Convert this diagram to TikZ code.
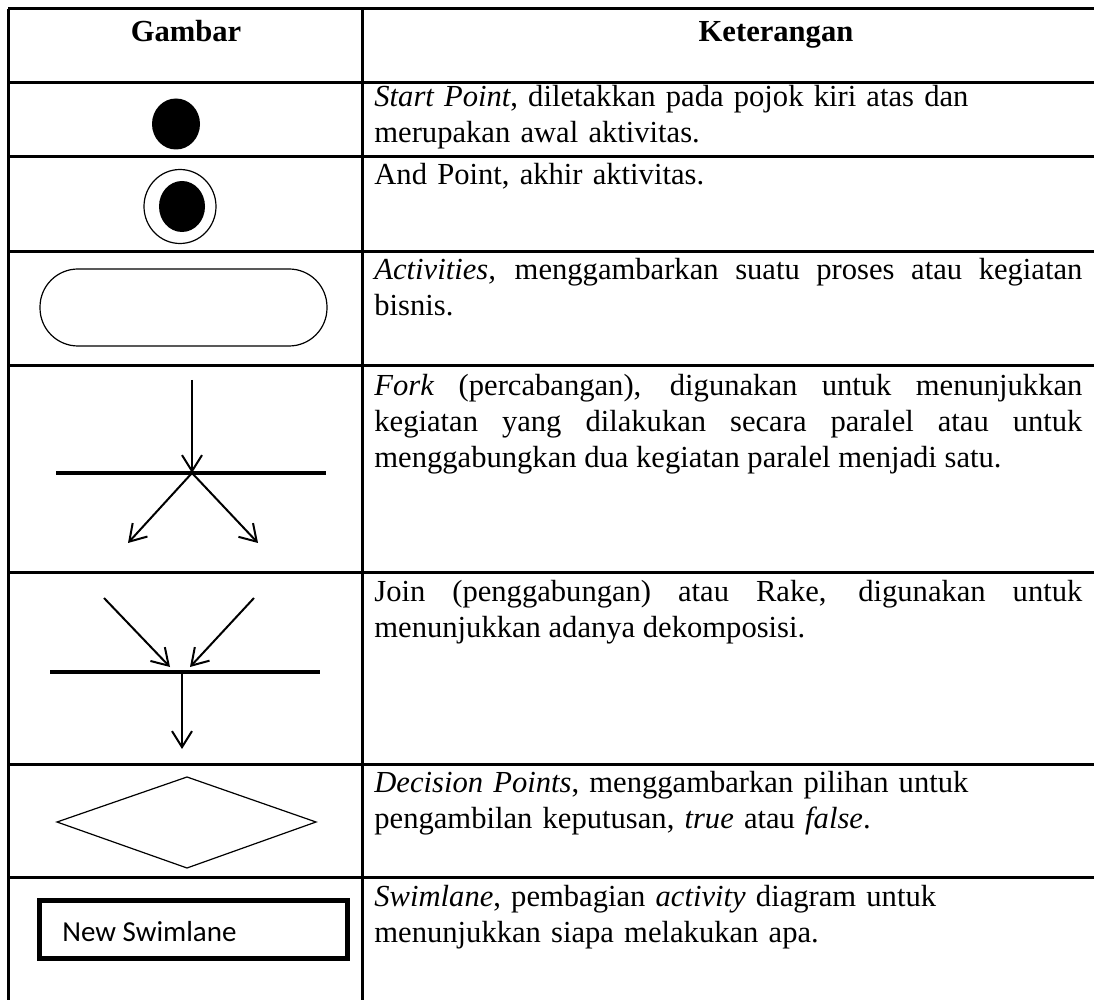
\documentclass[tikz,border=0pt]{standalone}
\usepackage{fontspec}
\setmainfont{Liberation Serif}
\newfontfamily\lanefont{Carlito}
\usetikzlibrary{arrows.meta}

\begin{document}
\begin{tikzpicture}[x=0.5pt,y=-0.5pt,
    rule/.style={line width=1.5pt},
    outline/.style={line width=0.6pt},
    bar/.style={line width=2pt},
    flow/.style={line width=1pt,-{Straight Barb[length=8pt,width=10pt]}},
    head/.style={anchor=base,inner sep=0pt,font=\fontsize{15.3}{18}\selectfont\bfseries},
    info/.style={anchor=base west,inner sep=0pt,text width=354pt,align=left,
        font=\fontsize{15.3}{18}\selectfont},
    infoj/.style={info,align=justify}]
    \useasboundingbox (0,0) rectangle (1094,1000);

    % table rules
    \draw[rule] (8,9) -- (1094,9);
    \foreach \y in {83,157,252,366,573,764,877}
        \draw[rule] (8,\y) -- (1094,\y);
    \draw[rule] (8,9) -- (8,1000);
    \draw[rule] (362,9) -- (362,1000);

    \node[head] (gambar) at (186,42) {Gambar};
    \node[head] (keterangan) at (776,42) {Keterangan};

    % start and end point
    \fill (176,124) ellipse (24 and 25.5);
    \draw[outline] (180,206.5) ellipse (36 and 37);
    \fill (182,206.5) ellipse (23 and 25.5);

    % activity
    \draw[outline,rounded corners=19pt] (40,269) rectangle (327,346);

    % fork
    \coordinate (forkin) at (192,380);
    \coordinate (forkmid) at (192,473);
    \coordinate (forkl) at (128,543);
    \coordinate (forkr) at (258,543);
    \draw[bar] (56,473) -- (326,473);
    \draw[flow] (forkin) -- (forkmid);
    \draw[flow] (forkmid) -- (forkl);
    \draw[flow] (forkmid) -- (forkr);

    % join
    \coordinate (joinl) at (104,598);
    \coordinate (joinr) at (254,598);
    \coordinate (joinla) at (170,667);
    \coordinate (joinra) at (190,667);
    \coordinate (joinmid) at (182,672);
    \coordinate (joinout) at (182,749);
    \draw[bar] (50,672) -- (320,672);
    \draw[flow] (joinl) -- (joinla);
    \draw[flow] (joinr) -- (joinra);
    \draw[flow] (joinmid) -- (joinout);

    % decision
    \draw[outline] (57,822) -- (187,777) -- (316,822) -- (187,868) -- cycle;

    % swimlane
    \draw[line width=2.5pt] (39.5,900) rectangle (347,958);
    \node[anchor=base west,inner sep=0pt,font=\lanefont\fontsize{14.5}{17}\selectfont]
        (lane) at (62,941) {New Swimlane};

    \node[info] (startinfo) at (374,107)
        {\textit{Start Point}, diletakkan pada pojok kiri atas dan\\ merupakan awal aktivitas.};
    \node[info] (endinfo) at (374,185) {And Point, akhir aktivitas.};
    \node[infoj] (actinfo) at (374,280)
        {\textit{Activities,} menggambarkan suatu proses atau kegiatan\linebreak bisnis.};
    \node[infoj] (forkinfo) at (374,396)
        {\textit{Fork} (percabangan), digunakan untuk menunjukkan\linebreak
         kegiatan yang dilakukan secara paralel atau untuk\linebreak
         menggabungkan dua kegiatan paralel menjadi satu.};
    \node[infoj] (joininfo) at (374,602)
        {Join (penggabungan) atau Rake, digunakan untuk\linebreak
         menunjukkan adanya dekomposisi.};
    \node[info] (decinfo) at (374,792)
        {\textit{Decision Points}, menggambarkan pilihan untuk\\
         pengambilan keputusan, \textit{true} atau \textit{false}.};
    \node[info] (laneinfo) at (374,906)
        {\textit{Swimlane}, pembagian \textit{activity} diagram untuk\\
         menunjukkan siapa melakukan apa.};
\end{tikzpicture}
\end{document}
